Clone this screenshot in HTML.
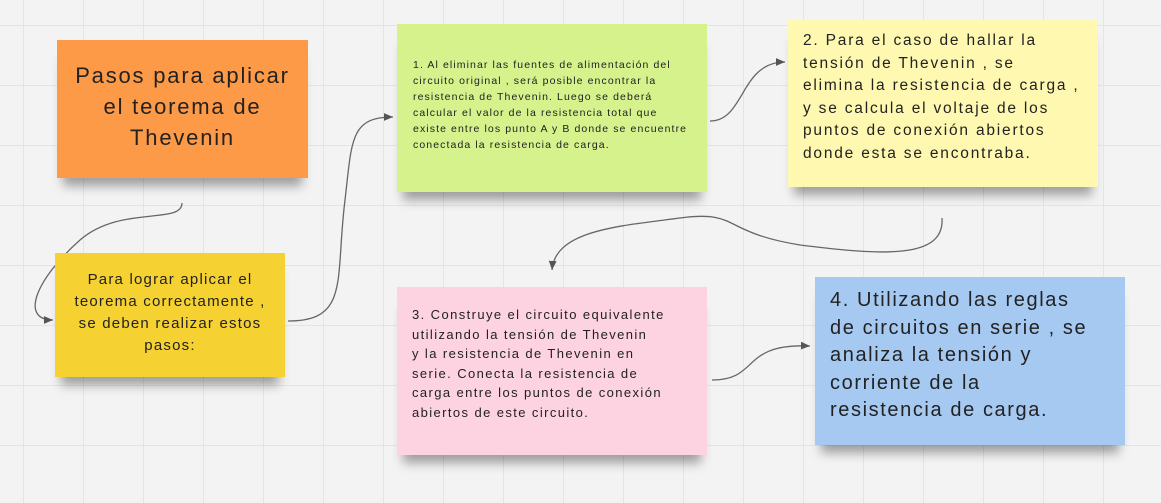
<!DOCTYPE html>
<html><head><meta charset="utf-8"><style>
html,body{margin:0;padding:0}
body{width:1161px;height:503px;position:relative;overflow:hidden;background-color:#f3f3f3;
background-image:linear-gradient(#e4e4e4 1px,transparent 1px),linear-gradient(90deg,#e4e4e4 1px,transparent 1px);
background-size:60px 60px;background-position:23px 25px;font-family:"Liberation Sans",sans-serif;color:#222}
.n{position:absolute;box-shadow:0 14px 10px -6px rgba(0,0,0,0.35);box-sizing:border-box}
.n div{position:absolute;white-space:nowrap}
svg{position:absolute;left:0;top:0}
</style></head><body>
<svg width="1161" height="503">
<defs><marker id="a" markerWidth="8" markerHeight="8" refX="7" refY="4" orient="auto"><path d="M0,1 L7,4 L0,7" fill="#555"/></marker></defs>
<g fill="none" stroke="#666" stroke-width="1.3">
<path d="M182,203 C182,225 120,205 80,240 C35,280 20,320 53,320" marker-end="url(#a)"/>
<path d="M288,321 C350,321 335,280 345,200 C352,140 350,117 393,117" marker-end="url(#a)"/>
<path d="M710,121 C745,121 740,62 785,62" marker-end="url(#a)"/>
<path d="M942,218 C945,260 880,255 800,245 C720,232 740,210 680,218 C620,226 555,230 552,270" marker-end="url(#a)"/>
<path d="M712,380 C760,380 740,343 810,346" marker-end="url(#a)"/>
</g></svg>

<div class="n" style="left:57px;top:40px;width:251px;height:138px;background:#fd9a48">
<div style="left:0;right:0;top:20px;text-align:center;font-size:22px;line-height:31px;letter-spacing:1.8px;white-space:normal">Pasos para aplicar<br>el teorema de<br>Thevenin</div></div>

<div class="n" style="left:55px;top:253px;width:230px;height:124px;background:#f5d132">
<div style="left:0;right:0;top:16px;text-align:center;font-size:15px;line-height:22px;letter-spacing:1.2px">Para lograr aplicar el<br>teorema correctamente ,<br>se deben realizar estos<br>pasos:</div></div>

<div class="n" style="left:397px;top:24px;width:310px;height:168px;background:#d5f28c">
<div style="left:16px;top:33px;font-size:10.5px;line-height:16px;letter-spacing:1.1px">1. Al eliminar las fuentes de alimentación del<br>circuito original , será posible encontrar la<br>resistencia de Thevenin. Luego se deberá<br>calcular el valor de la resistencia total que<br>existe entre los punto A y B donde se encuentre<br>conectada la resistencia de carga.</div></div>

<div class="n" style="left:788px;top:20px;width:310px;height:167px;background:#fff8b0">
<div style="left:15px;top:10px;font-size:15.5px;line-height:22.6px;letter-spacing:1.8px">2. Para el caso de hallar la<br>tensión de Thevenin , se<br>elimina la resistencia de carga ,<br>y se calcula el voltaje de los<br>puntos de conexión abiertos<br>donde esta se encontraba.</div></div>

<div class="n" style="left:397px;top:287px;width:310px;height:168px;background:#fdd3e2">
<div style="left:15px;top:18px;font-size:13px;line-height:19.5px;letter-spacing:1.4px">3. Construye el circuito equivalente<br>utilizando la tensión de Thevenin<br>y la resistencia de Thevenin en<br>serie. Conecta la resistencia de<br>carga entre los puntos de conexión<br>abiertos de este circuito.</div></div>

<div class="n" style="left:815px;top:277px;width:310px;height:168px;background:#a6c9f2">
<div style="left:15px;top:10px;font-size:20px;line-height:27.5px;letter-spacing:1.6px">4. Utilizando las reglas<br>de circuitos en serie , se<br>analiza la tensión y<br>corriente de la<br>resistencia de carga.</div></div>
</body></html>
